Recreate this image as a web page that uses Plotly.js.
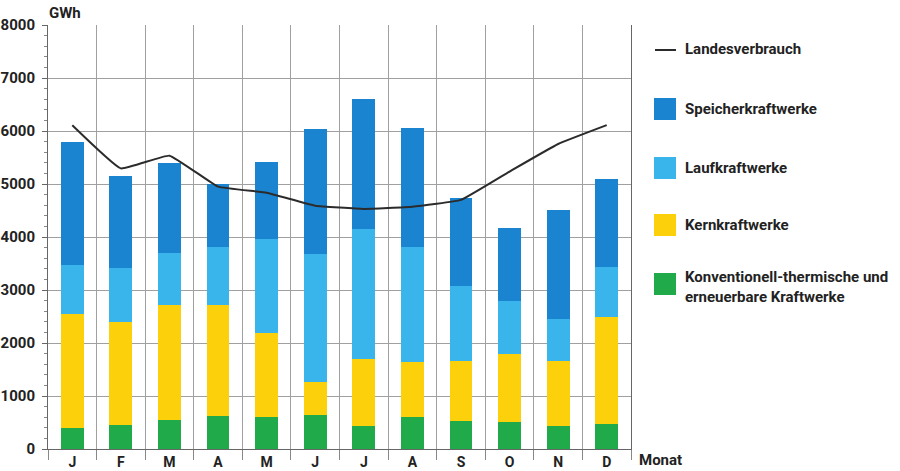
<!DOCTYPE html>
<html>
<head>
<meta charset="utf-8">
<script src="https://cdn.plot.ly/plotly-3.0.1.min.js"></script>
<style>html,body{margin:0;padding:0;background:#fff}#chart{width:900px;height:471px}</style>
</head>
<body>
<div id="chart"></div>
<script>
// Months (tick labels)
const months = ["J","F","M","A","M","J","J","A","S","O","N","D"];
// Series values (GWh), stacked from bottom to top
const konventionell = [400, 460, 540, 615, 610, 635, 435, 600, 535, 515, 435, 465];
const kernkraft     = [2140, 1940, 2175, 2095, 1580, 635, 1255, 1035, 1125, 1275, 1225, 2020];
const laufkraft     = [925, 1020, 990, 1100, 1765, 2405, 2470, 2180, 1415, 1000, 785, 945];
const speicherkraft = [2320, 1730, 1685, 1185, 1455, 2355, 2445, 2250, 1655, 1375, 2065, 1665];
const landesverbrauch = [6110, 5295, 5535, 4950, 4835, 4590, 4530, 4570, 4700, 5235, 5755, 6110];
// Y tick values
const yTicks = [0, 1000, 2000, 3000, 4000, 5000, 6000, 7000, 8000];

const names = {
  line: "Landesverbrauch",
  speicher: "Speicherkraftwerke",
  lauf: "Laufkraftwerke",
  kern: "Kernkraftwerke",
  konv: "Konventionell-thermische und<br>erneuerbare Kraftwerke"
};
const colors = {
  speicher: "#1a84d0",
  lauf: "#3ab5ec",
  kern: "#fcd00a",
  konv: "#20aa4a",
  line: "#2b2b2b"
};

const xIdx = months.map((_, i) => i);
const FONT = "Roboto, 'Liberation Sans', sans-serif";
const barW = 0.47;

function bar(y, name, color) {
  return {type: "bar", x: xIdx, y: y, name: name, width: barW,
    marker: {color: color, line: {width: 0}}, showlegend: false, hoverinfo: "y+name"};
}

const traces = [
  bar(konventionell, names.konv, colors.konv),
  bar(kernkraft, names.kern, colors.kern),
  bar(laufkraft, names.lauf, colors.lauf),
  bar(speicherkraft, names.speicher, colors.speicher),
  {type: "scatter", mode: "lines", x: xIdx, y: landesverbrauch, name: names.line,
   line: {color: colors.line, width: 2, shape: "spline", smoothing: 0.3}, showlegend: false}
];

// plot area in pixels
const L = 48, R = 631, T = 25, B = 449, W = 900, H = 471;
const px = x => (x - L) / (R - L);
const py = y => (B - y) / (B - T);

const legendItems = [
  {key: "speicher", cy: 109},
  {key: "lauf", cy: 168},
  {key: "kern", cy: 225},
  {key: "konv", cy: 284}
];
const shapes = [];
const annotations = [];
shapes.push({type: "line", xref: "paper", yref: "paper", x0: px(655), x1: px(676), y0: py(50), y1: py(50),
  line: {color: colors.line, width: 2}});
annotations.push({xref: "paper", yref: "paper", x: px(683), y: py(49), xanchor: "left", yanchor: "middle",
  text: names.line, showarrow: false, align: "left"});
legendItems.forEach(it => {
  shapes.push({type: "rect", xref: "paper", yref: "paper", x0: px(654), x1: px(676),
    y0: py(it.cy + 11), y1: py(it.cy - 11), fillcolor: colors[it.key], line: {width: 0}});
  annotations.push({xref: "paper", yref: "paper", x: px(683), y: py(it.key === "konv" ? 287 : it.cy), xanchor: "left", yanchor: "middle",
    text: names[it.key], showarrow: false, align: "left"});
});
annotations.push({xref: "paper", yref: "paper", x: px(47), y: py(13), xanchor: "left", yanchor: "middle",
  text: "GWh", showarrow: false});
annotations.push({xref: "paper", yref: "paper", x: px(637), y: py(460), xanchor: "left", yanchor: "middle",
  text: "Monat", showarrow: false});

const layout = {
  width: W, height: H,
  margin: {l: L, r: W - R, t: T, b: H - B, pad: 0},
  paper_bgcolor: "#fff", plot_bgcolor: "#fff",
  barmode: "stack",
  font: {family: FONT, size: 15, color: "#222", weight: 700},
  showlegend: false,
  xaxis: {
    range: [-0.5, 11.5], tickvals: xIdx, ticktext: months,
    showgrid: false, zeroline: false, ticks: "",
    showline: true, linecolor: "#666", linewidth: 1,
    tickfont: {family: FONT, size: 14, color: "#222", weight: 700},
    minor: {tick0: -0.5, dtick: 1, showgrid: true, gridcolor: "#a0a0a0", gridwidth: 1,
            ticks: "outside", ticklen: 10, tickcolor: "#888", tickwidth: 1}
  },
  yaxis: {
    range: [0, 8000], tickvals: yTicks, ticktext: yTicks.map(String),
    showgrid: true, gridcolor: "#a0a0a0", gridwidth: 1, zeroline: false,
    showline: true, linecolor: "#666", linewidth: 1, mirror: true,
    ticks: "outside", ticklen: 5, tickcolor: "#666", ticklabelstandoff: 4,
    tickfont: {family: FONT, size: 15, color: "#222", weight: 700},
    minor: {dtick: 200, ticks: "outside", ticklen: 3, tickcolor: "#888", showgrid: false}
  },
  shapes: shapes,
  annotations: annotations
};

Plotly.newPlot("chart", traces, layout, {displayModeBar: false, staticPlot: true});
</script>
</body>
</html>
